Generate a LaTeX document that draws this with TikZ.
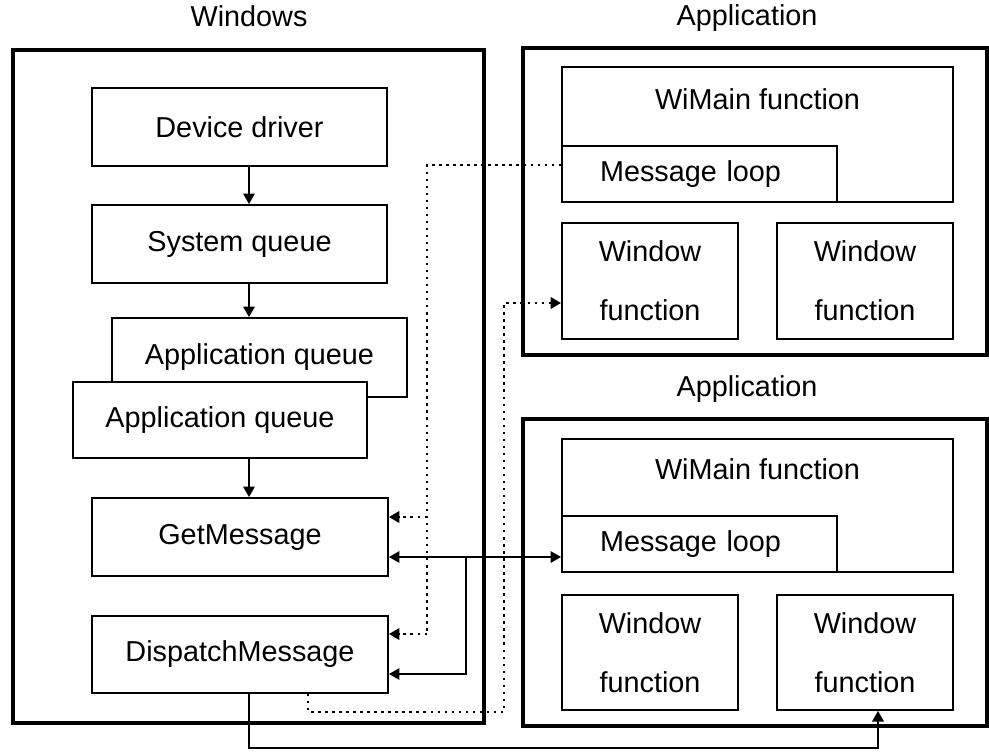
\documentclass[tikz,border=0pt]{standalone}
\usepackage{fontspec}
\setmainfont{Liberation Sans}
\usetikzlibrary{arrows.meta, positioning}

\begin{document}
\begin{tikzpicture}[x=0.02cm, y=-0.02cm,
    font=\fontsize{16.4pt}{19pt}\selectfont,
    frame/.style={draw, line width=2.3pt, inner sep=0pt},
    blk/.style={draw, fill=white, line width=1.1pt, inner sep=0pt},
    wfun/.style={blk, minimum width=3.52cm, minimum height=2.32cm, align=center,
      font=\fontsize{16.4pt}{33.6pt}\selectfont},
    loopbox/.style={blk, minimum width=5.5cm, minimum height=1.12cm,
      text width=3.98cm, align=left},
    title/.style={text height=0.75em, text depth=0.22em},
    tip/.style={-{Triangle[length=6pt, width=6.6pt]}},
    conn/.style={line width=0.9pt},
    dots/.style={line width=1.4pt, dash pattern=on 1.4pt off 2.6pt}]
  \useasboundingbox (0,0) rectangle (989,751);
  \fill[white] (0,0) rectangle (989,751);

  \node[title] (wint) at (249,22) {Windows};
  \node[title] (app1t) at (747,21) {Application};
  \node[title] (app2t) at (747,392) {Application};

  \node[frame, minimum width=9.42cm, minimum height=13.46cm] (win) at (248.5,386.5) {};
  \node[frame, minimum width=9.28cm, minimum height=6.14cm] (app1) at (755,201.5) {};
  \node[frame, minimum width=9.28cm, minimum height=6.14cm] (app2) at (755,572.5) {};

  \node[blk, minimum width=5.9cm, minimum height=1.56cm] (dev) at (239.5,127) {Device driver};
  \node[blk, minimum width=5.9cm, minimum height=1.56cm] (sysq) at (239.5,244) {System queue};
  \node[blk, minimum width=5.9cm, minimum height=1.58cm] (appqb) at (259.5,357.5) {Application queue};
  \node[blk, minimum width=5.88cm, minimum height=1.52cm] (appqf) at (220,420) {Application queue};
  \node[blk, minimum width=5.92cm, minimum height=1.56cm] (getm) at (240,537) {GetMessage};
  \node[blk, minimum width=5.92cm, minimum height=1.54cm] (disp) at (240,654.5) {DispatchMessage};

  \node[blk, minimum width=7.82cm, minimum height=2.7cm,
    label={[anchor=center, yshift=-0.66cm]north:WiMain function}] (main1) at (757.5,134.5) {};
  \node[loopbox] (loop1) at (699.5,174) {Message loop};
  \node[wfun] (wf11) at (650,281) {Window\\function};
  \node[wfun] (wf12) at (865,281) {Window\\function};

  \node[blk, minimum width=7.82cm, minimum height=2.66cm,
    label={[anchor=center, yshift=-0.62cm]north:WiMain function}] (main2) at (757.5,505.5) {};
  \node[loopbox] (loop2) at (699.5,544) {Message loop};
  \node[wfun, minimum height=2.3cm] (wf21) at (650,652.5) {Window\\function};
  \node[wfun, minimum height=2.3cm] (wf22) at (865,652.5) {Window\\function};

  \coordinate (col) at (249,0);
  \draw[conn, tip] (dev.south -| col) -- (sysq.north -| col);
  \draw[conn, tip] (sysq.south -| col) -- (appqb.north -| col);
  \draw[conn, tip] (appqf.south -| col) -- (getm.north -| col);

  \coordinate (d1) at (427,165);
  \coordinate (d2) at (427,517);
  \coordinate (d3) at (427,634);
  \draw[dots] (loop1.west |- d1) -- (d1) -- (d3);
  \draw[dots, tip] (d2) -- (getm.east |- d2);
  \draw[dots, tip] (d3) -- (disp.east |- d3);

  \coordinate (e1) at (308,712);
  \coordinate (e2) at (504,712);
  \coordinate (e3) at (504,303);
  \draw[dots, tip] (disp.south -| e1) -- (e1) -- (e2) -- (e3) -- (wf11.west |- e3);

  \coordinate (s1) at (466,557);
  \coordinate (s2) at (466,674);
  \draw[conn, {Triangle[length=6pt, width=6.6pt]}-{Triangle[length=6pt, width=6.6pt]}]
    (getm.east |- s1) -- (loop2.west |- s1);
  \draw[conn, tip] (s1) -- (s2) -- (disp.east |- s2);

  \coordinate (b1) at (249,748);
  \coordinate (b2) at (878,748);
  \draw[conn, tip] (disp.south -| b1) -- (b1) -- (b2) -- (wf22.south -| b2);
\end{tikzpicture}
\end{document}
